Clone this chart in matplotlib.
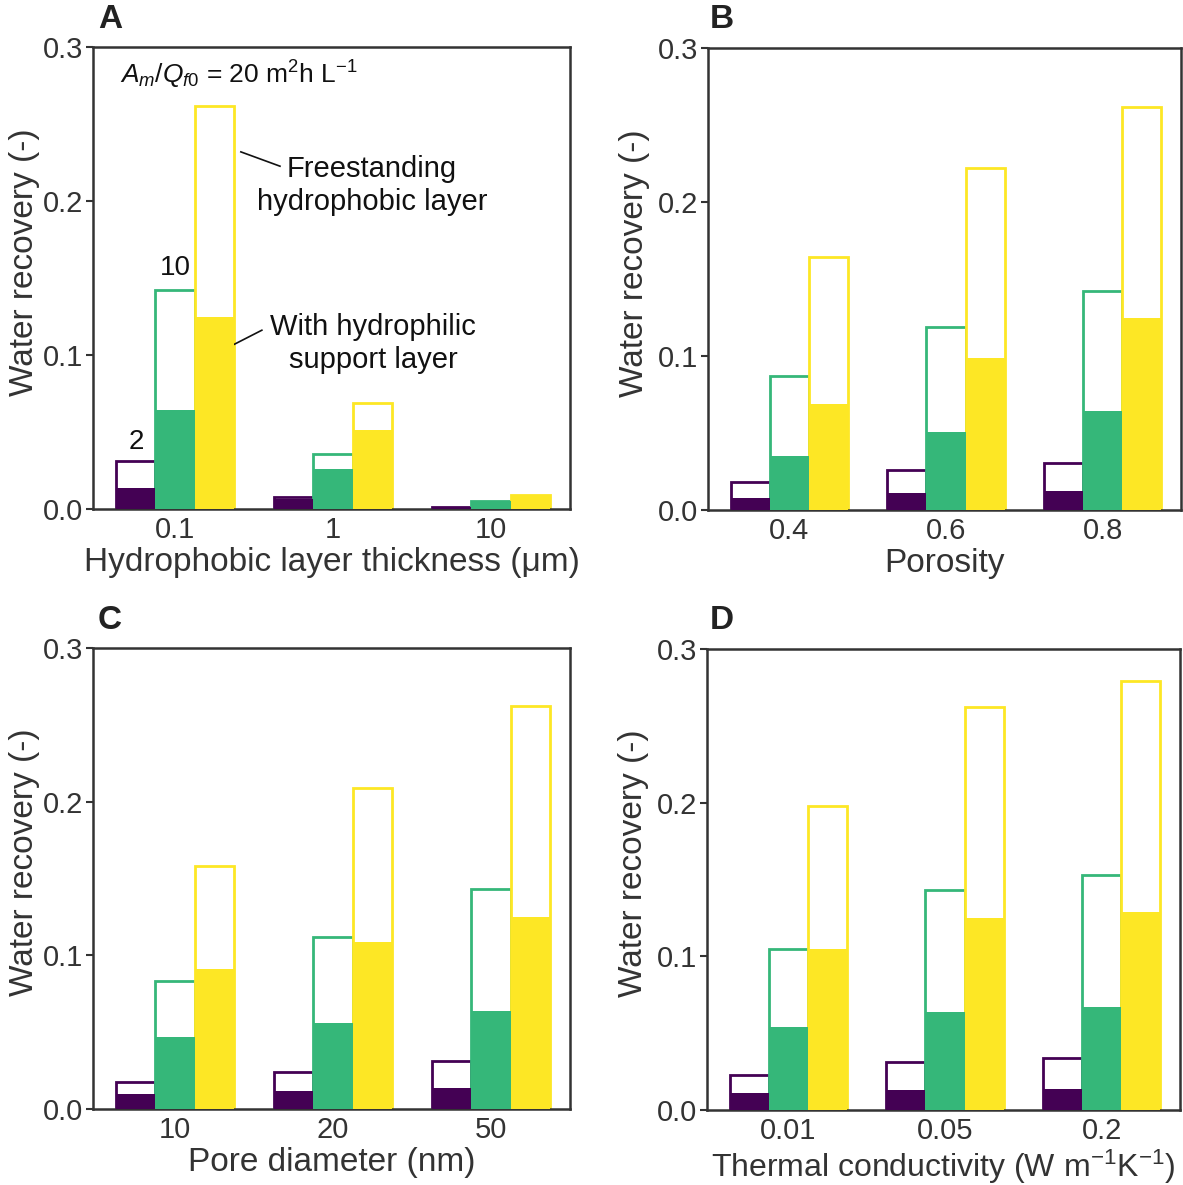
import matplotlib
matplotlib.use("Agg")
import matplotlib.pyplot as plt
import numpy as np

plt.rcParams['font.family'] = ['Liberation Sans', 'DejaVu Sans']
plt.rcParams['mathtext.fontset'] = 'custom'
plt.rcParams['mathtext.rm'] = 'Liberation Sans'
plt.rcParams['mathtext.it'] = 'Liberation Sans:italic'
plt.rcParams['mathtext.default'] = 'regular'

# Data: three A_m/Q_f0 values (2, 10, 20 m2h/L) per group
# "free" = freestanding hydrophobic layer (outline), "supp" = with hydrophilic support (filled)
thick_labels = ['0.1', '1', '10']
thick_free = [[0.031, 0.008, 0.0015], [0.142, 0.036, 0.005], [0.262, 0.069, 0.009]]
thick_supp = [[0.0136, 0.0065, 0.0015], [0.064, 0.026, 0.005], [0.125, 0.051, 0.009]]

poro_labels = ['0.4', '0.6', '0.8']
poro_free = [[0.018, 0.026, 0.0305], [0.087, 0.119, 0.142], [0.164, 0.222, 0.262]]
poro_supp = [[0.0078, 0.011, 0.0123], [0.035, 0.0506, 0.064], [0.069, 0.099, 0.125]]

pore_labels = ['10', '20', '50']
pore_free = [[0.0176, 0.024, 0.031], [0.083, 0.112, 0.143], [0.158, 0.209, 0.262]]
pore_supp = [[0.0098, 0.0117, 0.0137], [0.047, 0.056, 0.064], [0.091, 0.109, 0.125]]

cond_labels = ['0.01', '0.05', '0.2']
cond_free = [[0.0228, 0.031, 0.034], [0.105, 0.143, 0.153], [0.198, 0.262, 0.279]]
cond_supp = [[0.011, 0.013, 0.0137], [0.054, 0.064, 0.067], [0.105, 0.125, 0.129]]

colors = ['#440154', '#35b779', '#fde725']
dark = '#333333'

W, H = 1183, 1185
fig = plt.figure(figsize=(W / 100, H / 100), dpi=100)


def make_ax(x0, x1, y0, y1):
    return fig.add_axes([x0 / W, 1 - y1 / H, (x1 - x0) / W, (y1 - y0) / H])


def panel(ax, labels, free, supp, xlabel, ylab_x, xlab_size=24):
    x = np.arange(1, len(labels) + 1)
    w = 0.25
    for i, c in enumerate(colors):
        ax.bar(x + (i - 1) * w, free[i], w, facecolor='white', edgecolor=c, linewidth=2, zorder=2)
    for i, c in enumerate(colors):
        ax.bar(x + (i - 1) * w, supp[i], w, color=c, linewidth=0, zorder=3)
    ax.set_xlim(0.48, 3.5)
    ax.set_ylim(0, 0.3)
    ax.set_xticks(x)
    ax.set_xticklabels(labels)
    ax.set_yticks([0, 0.1, 0.2, 0.3])
    ax.set_yticklabels(['0.0', '0.1', '0.2', '0.3'])
    ax.tick_params(axis='y', direction='out', length=5, width=1.5, color=dark,
                   labelsize=21, labelcolor=dark, pad=2)
    ax.tick_params(axis='x', length=0, labelsize=21, labelcolor=dark, pad=5)
    for s in ax.spines.values():
        s.set_color(dark)
        s.set_linewidth(1.8)
    ax.set_ylabel('Water recovery (-)', fontsize=24, color=dark)
    ax.yaxis.set_label_coords(ylab_x, 0.535)
    ax.set_xlabel(xlabel, fontsize=xlab_size, color=dark, labelpad=2)


axA = make_ax(93, 570, 47, 509)
axB = make_ax(708, 1181, 48, 510)
axC = make_ax(93, 570, 648, 1109)
axD = make_ax(707, 1180, 649, 1110)

panel(axA, thick_labels, thick_free, thick_supp, 'Hydrophobic layer thickness (μm)', -0.112)
panel(axB, poro_labels, poro_free, poro_supp, 'Porosity', -0.122)
panel(axC, pore_labels, pore_free, pore_supp, 'Pore diameter (nm)', -0.112)
panel(axD, cond_labels, cond_free, cond_supp, 'Thermal conductivity (W m$^{-1}$K$^{-1}$)',
      -0.122, xlab_size=23)

# panel letters
for letter, (px, py) in zip('ABCD', [(110, 20), (722, 20), (110, 620), (722, 620)]):
    fig.text(px / W, 1 - py / H, letter, fontsize=24, fontweight='bold', color='#222222',
             ha='center', va='center')

# annotations in panel A
axA.text(0.056, 0.939, r'$\mathit{A}_{\mathit{m}}/\mathit{Q}_{\mathit{f0}}$ = 20 m$^2$h L$^{-1}$',
         transform=axA.transAxes, fontsize=19, color='#111111', ha='left', va='center')
axA.text(0.585, 0.700, 'Freestanding\nhydrophobic layer', transform=axA.transAxes,
         fontsize=21, color='#111111', ha='center', va='center', linespacing=1.2)
axA.plot([0.310, 0.392], [0.773, 0.742], transform=axA.transAxes, color='#111111', lw=1.2)
axA.text(0.587, 0.358, 'With hydrophilic\nsupport layer', transform=axA.transAxes,
         fontsize=21, color='#111111', ha='center', va='center', linespacing=1.2)
axA.plot([0.2725, 0.354], [0.344, 0.387], transform=axA.transAxes, color='#111111', lw=1.2)
axA.text(0.172, 0.522, '10', transform=axA.transAxes, fontsize=20, color='#111111',
         ha='center', va='center')
axA.text(0.090, 0.145, '2', transform=axA.transAxes, fontsize=20, color='#111111',
         ha='center', va='center')

fig.savefig('out.png', dpi=100)
